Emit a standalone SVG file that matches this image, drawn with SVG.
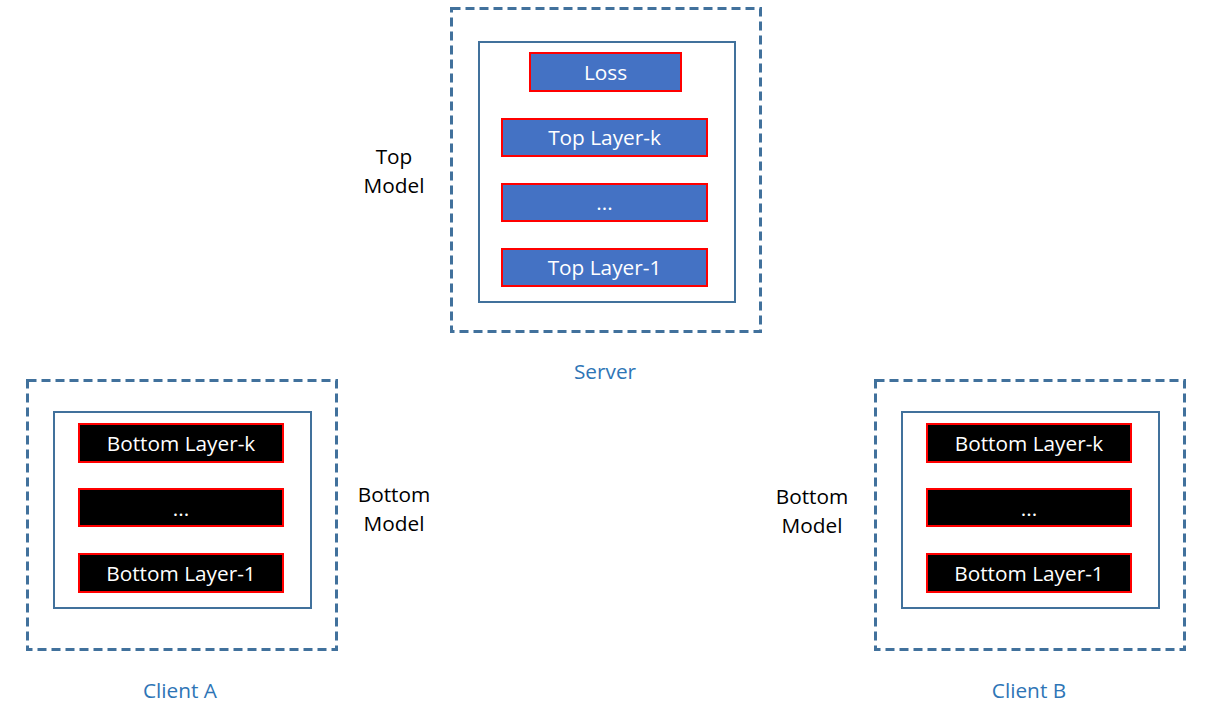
<svg xmlns="http://www.w3.org/2000/svg" width="1220" height="713" viewBox="0 0 1220 713">
<style>
.outer{fill:none;stroke:#41719C;stroke-width:3;stroke-dasharray:9,5}
.inner{fill:none;stroke:#41719C;stroke-width:2}
.top{fill:#4472C4;stroke:#FF0000;stroke-width:2}
.bot{fill:#000000;stroke:#FF0000;stroke-width:2}
.t{font-family:"Open Sans","Liberation Sans",sans-serif;font-size:20.8px;fill:#FFFFFF;text-anchor:middle}
.lab{font-family:"Open Sans","Liberation Sans",sans-serif;font-size:20.8px;fill:#000000;text-anchor:middle}
.name{font-family:"Open Sans","Liberation Sans",sans-serif;font-size:20.8px;fill:#2E75B6;text-anchor:middle}
</style>
<rect width="1220" height="713" fill="#FFFFFF"/>
<g id="server">
<rect class="outer" x="451.5" y="8.5" width="309" height="323"/>
<rect class="inner" x="479" y="42" width="256" height="260"/>
<g id="loss"><rect class="top" x="530" y="53" width="151" height="38"/><text class="t" x="605.5" y="80">Loss</text></g>
<g id="top-k"><rect class="top" x="502" y="119" width="205" height="37"/><text class="t" x="604.5" y="145">Top Layer-k</text></g>
<g id="top-dots"><rect class="top" x="502" y="184" width="205" height="37"/><text class="t" x="604.5" y="210">...</text></g>
<g id="top-1"><rect class="top" x="502" y="249" width="205" height="37"/><text class="t" x="604.5" y="275">Top Layer-1</text></g>
<text class="lab" x="394" y="164">Top</text>
<text class="lab" x="394" y="193">Model</text>
<text class="name" x="605" y="379">Server</text>
</g>
<g id="clientA">
<rect class="outer" x="27.5" y="380.5" width="309" height="269"/>
<rect class="inner" x="54" y="412" width="257" height="196"/>
<g id="a-k"><rect class="bot" x="79" y="424" width="204" height="38"/><text class="t" x="181" y="451">Bottom Layer-k</text></g>
<g id="a-dots"><rect class="bot" x="79" y="489" width="204" height="37"/><text class="t" x="181" y="516">...</text></g>
<g id="a-1"><rect class="bot" x="79" y="554" width="204" height="38"/><text class="t" x="181" y="581">Bottom Layer-1</text></g>
<text class="lab" x="394" y="502">Bottom</text>
<text class="lab" x="394" y="531">Model</text>
<text class="name" x="180" y="698">Client A</text>
</g>
<g id="clientB">
<rect class="outer" x="875.5" y="380.5" width="309" height="269"/>
<rect class="inner" x="902" y="412" width="257" height="196"/>
<g id="b-k"><rect class="bot" x="927" y="424" width="204" height="38"/><text class="t" x="1029" y="451">Bottom Layer-k</text></g>
<g id="b-dots"><rect class="bot" x="927" y="489" width="204" height="37"/><text class="t" x="1029" y="516">...</text></g>
<g id="b-1"><rect class="bot" x="927" y="554" width="204" height="38"/><text class="t" x="1029" y="581">Bottom Layer-1</text></g>
<text class="lab" x="812" y="504">Bottom</text>
<text class="lab" x="812" y="533">Model</text>
<text class="name" x="1029" y="698">Client B</text>
</g>
<g id="connectors"></g>
</svg>
